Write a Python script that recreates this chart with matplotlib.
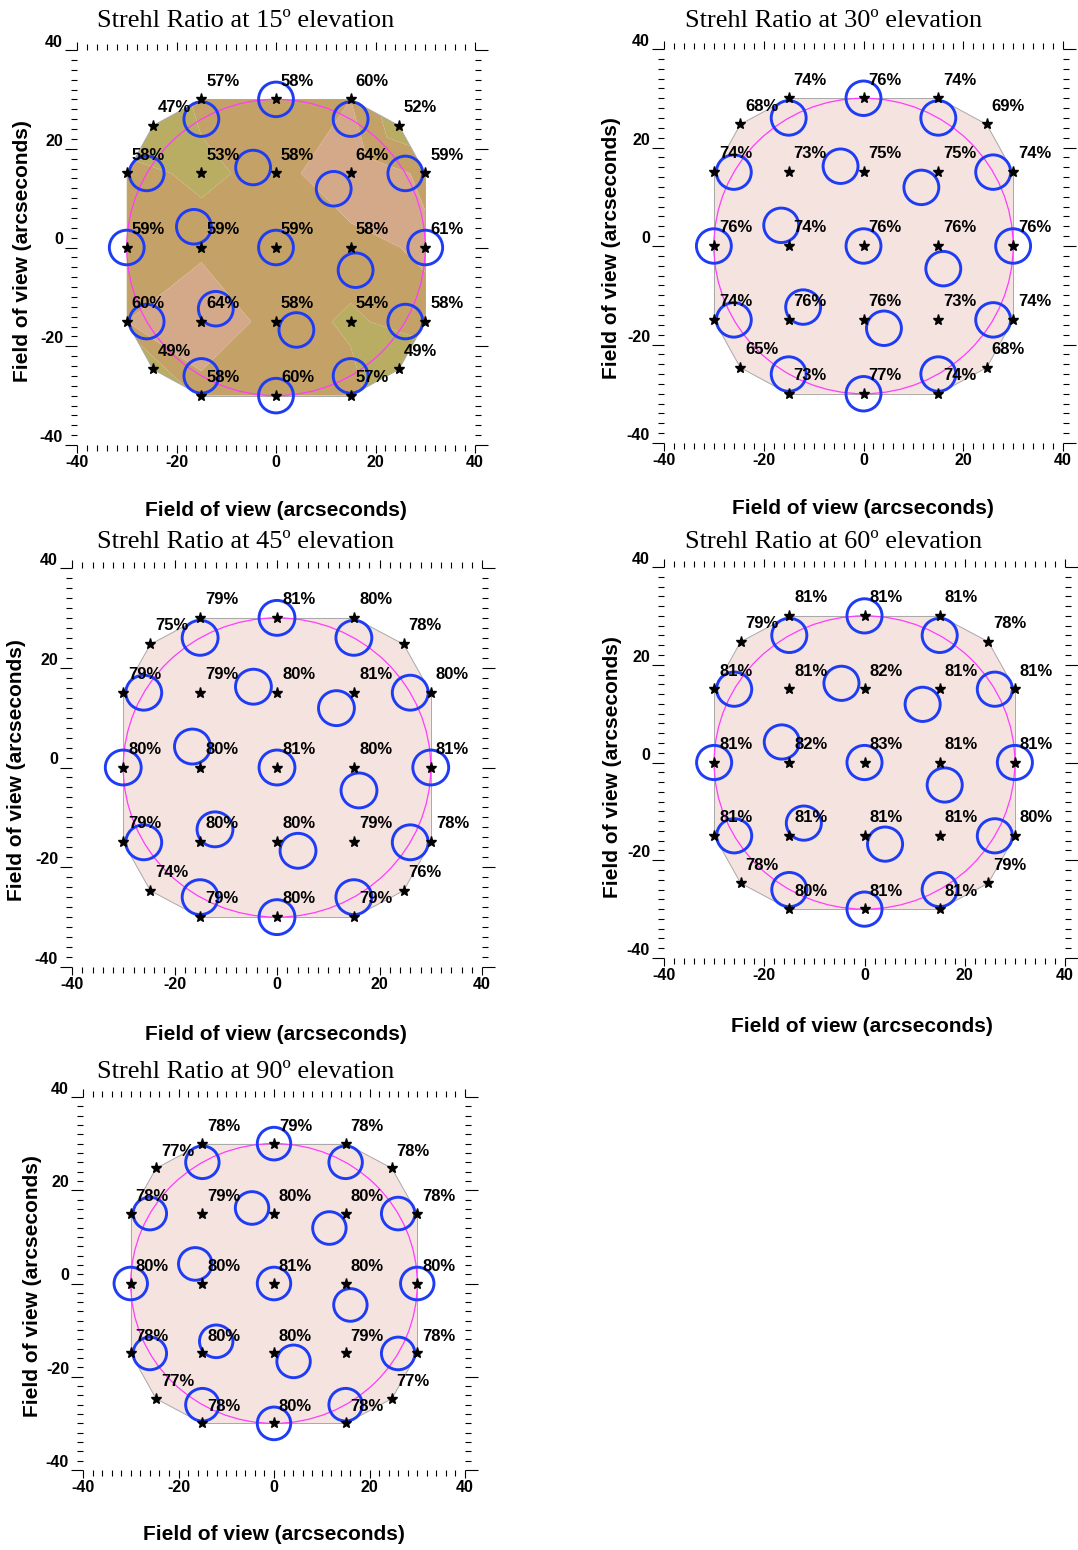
import matplotlib
matplotlib.use("Agg")
import matplotlib.pyplot as plt
import matplotlib.tri as mtri
from matplotlib.patches import Circle
from matplotlib.ticker import MultipleLocator

plt.rcParams["axes.unicode_minus"] = False

# ---- data -------------------------------------------------------------
# science-field sample points (arcsec)
star_x = [-15, 0, 15, -24.7, 24.7, -30, -15, 0, 15, 30, -30, -15, 0, 15, 30,
          -30, -15, 0, 15, 30, -24.7, 24.7, -15, 0, 15]
star_y = [30, 30, 30, 24.7, 24.7, 15, 15, 15, 15, 15, 0, 0, 0, 0, 0,
          -15, -15, -15, -15, -15, -24.7, -24.7, -30, -30, -30]

# mesh connecting the sample points (indices into star_x / star_y)
mesh = [(5, 3, 6), (3, 0, 6), (0, 1, 7), (0, 7, 6), (1, 2, 7), (7, 2, 8),
        (2, 4, 8), (8, 4, 9),
        (5, 6, 11), (5, 11, 10), (6, 7, 11), (7, 12, 11),
        (7, 8, 13), (7, 13, 12), (8, 9, 14), (8, 14, 13),
        (10, 11, 15), (11, 16, 15), (11, 12, 17), (11, 17, 16),
        (12, 13, 17), (13, 18, 17), (13, 14, 19), (13, 19, 18),
        (15, 16, 22), (15, 22, 20), (16, 17, 22), (17, 23, 22),
        (17, 18, 24), (17, 24, 23), (18, 19, 21), (18, 21, 24)]

# Strehl ratio (%) at each sample point, per telescope elevation
elevations = [15, 30, 45, 60, 90]
strehl_15 = [57, 58, 60, 47, 52, 58, 53, 58, 64, 59, 59, 59, 59, 58, 61,
             60, 64, 58, 54, 58, 49, 49, 58, 60, 57]
strehl_30 = [74, 76, 74, 68, 69, 74, 73, 75, 75, 74, 76, 74, 76, 76, 76,
             74, 76, 76, 73, 74, 65, 68, 73, 77, 74]
strehl_45 = [79, 81, 80, 75, 78, 79, 79, 80, 81, 80, 80, 80, 81, 80, 81,
             79, 80, 80, 79, 78, 74, 76, 79, 80, 79]
strehl_60 = [81, 81, 81, 79, 78, 81, 81, 82, 81, 81, 81, 82, 83, 81, 81,
             81, 81, 81, 81, 80, 78, 79, 80, 81, 81]
strehl_90 = [78, 79, 78, 77, 78, 78, 79, 80, 80, 78, 80, 80, 81, 80, 80,
             78, 80, 80, 79, 78, 77, 77, 78, 80, 78]
strehl = [strehl_15, strehl_30, strehl_45, strehl_60, strehl_90]

# guide-star asterism (arcsec)
guide_x = [30, 26, 15, 0, -15, -26, -30, -26, -15, 0, 15, 26,
           11.6, -4.6, -16.5, -12.1, 4.1, 16.0, 0]
guide_y = [0, 15, 26, 30, 26, 15, 0, -15, -26, -30, -26, -15,
           11.9, 16.2, 4.2, -12.4, -16.7, -4.6, 0]
guide_radius = 3.5
field_radius = 30

# colour bands of the interpolated Strehl map
band_levels = [0, 55, 60, 66, 100]
band_colors = ["#b8ad62", "#c4a166", "#d4a98a", "#f5e3df"]

# ---- layout (pixels) --------------------------------------------------
W, H = 1078, 1550
boxes = [(77, 475, 50, 445), (664, 1063, 49, 443), (72, 482, 568, 967),
         (664, 1065, 567, 958), (83, 465, 1097, 1470)]
titles_at = [(246, 27), (834, 27), (246, 548), (834, 548), (246, 1078)]
xlab_at = [(276, 511), (863, 508), (276, 1034), (862, 1027), (274, 1534)]
ylab_at = [(23, 251), (611, 248), (17, 770), (612, 767), (33, 1286)]

fig = plt.figure(figsize=(W / 100, H / 100), dpi=100)
fig.patch.set_facecolor("white")

tri = mtri.Triangulation(star_x, star_y, triangles=mesh)

for k, elev in enumerate(elevations):
    l, r, t, b = boxes[k]
    ax = fig.add_axes([l / W, 1 - b / H, (r - l) / W, (b - t) / H])
    vals = strehl[k]

    ax.tricontourf(tri, vals, levels=band_levels, colors=band_colors,
                   antialiased=True, zorder=1)

    # outline of the interpolated region
    for ti in range(tri.triangles.shape[0]):
        for j in range(3):
            if tri.neighbors[ti, j] == -1:
                a = tri.triangles[ti, j]
                c = tri.triangles[ti, (j + 1) % 3]
                ax.plot([star_x[a], star_x[c]], [star_y[a], star_y[c]],
                        color="#a8a8a8", lw=0.7, zorder=1.5)

    ax.add_patch(Circle((0, 0), field_radius, fill=False, ec="#ff3cff",
                        lw=0.9, zorder=2))
    for gx, gy in zip(guide_x, guide_y):
        ax.add_patch(Circle((gx, gy), guide_radius, fill=False,
                            ec="#1f3cf5", lw=2.1, zorder=3))

    ax.plot(star_x, star_y, ls="none", marker="*", ms=8, color="black",
            zorder=4)
    for sx, sy, v in zip(star_x, star_y, vals):
        ax.text(sx + 1.0, sy + 3.7, f"{v}%", fontsize=12,
                fontweight="bold", family="Liberation Sans",
                ha="left", va="center", zorder=5)

    ax.set_xlim(-40, 40)
    ax.set_ylim(-40, 40)
    for s in ax.spines.values():
        s.set_visible(False)
    ax.set_facecolor("none")
    ax.xaxis.set_major_locator(MultipleLocator(20))
    ax.yaxis.set_major_locator(MultipleLocator(20))
    ax.xaxis.set_minor_locator(MultipleLocator(2))
    ax.yaxis.set_minor_locator(MultipleLocator(2))
    ax.tick_params(which="both", direction="out", top=True, right=True,
                   labeltop=False, labelright=False, width=0.8,
                   color="black")
    ax.tick_params(axis="x", which="major", length=6, pad=1,
                   labelsize=11.5)
    ax.tick_params(axis="y", which="major", length=9, pad=1,
                   labelsize=11.5)
    ax.tick_params(which="minor", length=4)
    for lab in ax.get_xticklabels() + ax.get_yticklabels():
        lab.set_fontweight("bold")
        lab.set_family("Liberation Sans")
    for lab in ax.get_yticklabels():
        lab.set_va("bottom")

    tx, ty = titles_at[k]
    fig.text(tx / W, 1 - ty / H, f"Strehl Ratio at {elev}º elevation",
             family="Liberation Serif", fontsize=19, ha="center",
             va="baseline")
    xx, xy = xlab_at[k]
    fig.text(xx / W, 1 - xy / H, "Field of view (arcseconds)",
             family="Liberation Sans", fontweight="bold", fontsize=15,
             ha="center", va="center")
    yx, yy = ylab_at[k]
    fig.text(yx / W, 1 - yy / H, "Field of view (arcseconds)",
             family="Liberation Sans", fontweight="bold", fontsize=15,
             ha="center", va="center", rotation=90)

fig.savefig("out.png", dpi=100)
